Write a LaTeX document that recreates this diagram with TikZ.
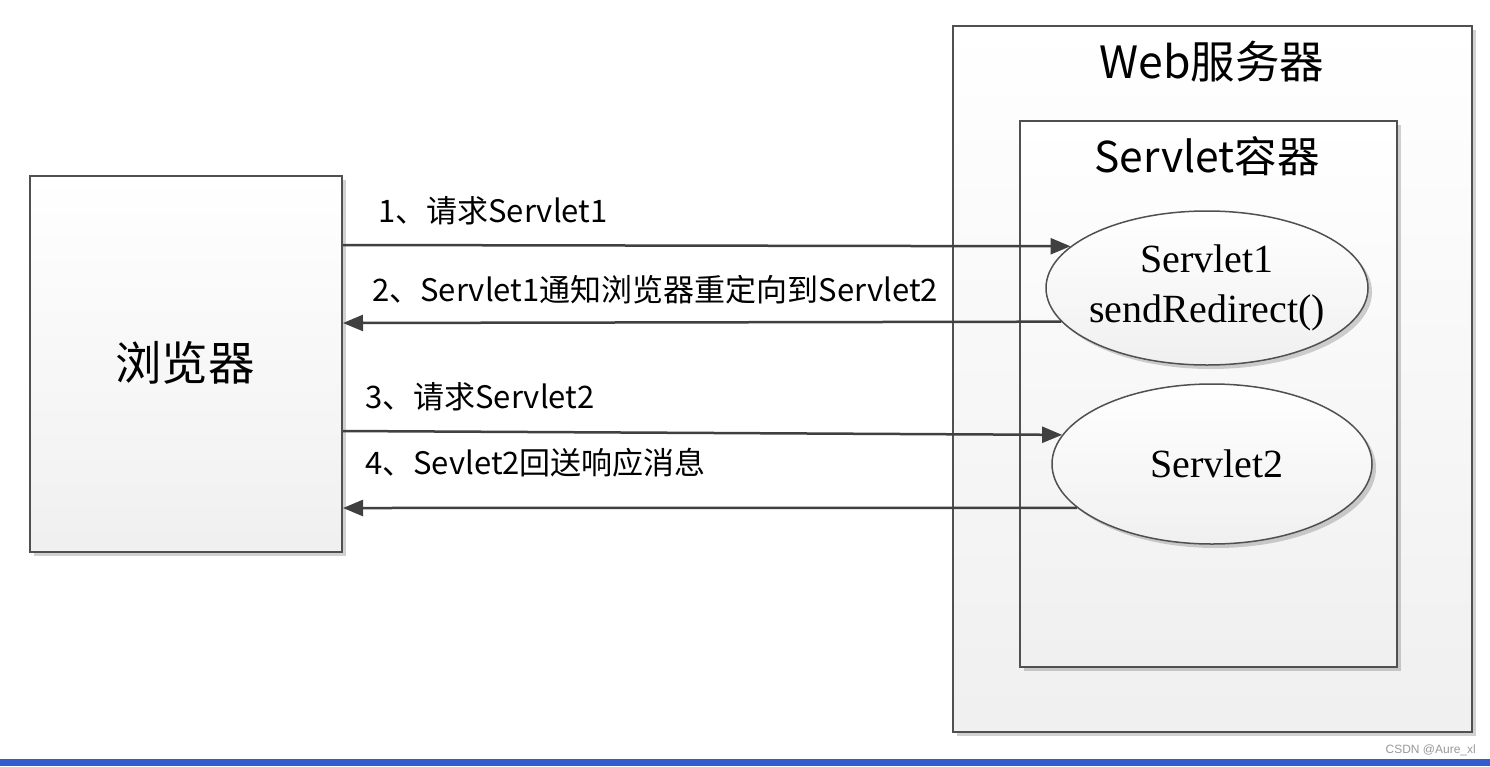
\documentclass[tikz,border=0pt]{standalone}
\usepackage{fontspec}
\setmainfont{Liberation Serif}
\newfontfamily\cjk{Noto Sans CJK SC}
\newfontfamily\wm{Liberation Sans}
\usetikzlibrary{arrows.meta,shadows,shapes.geometric}
\definecolor{edge}{RGB}{80,80,80}
\definecolor{arr}{RGB}{64,64,64}
\definecolor{barblue}{RGB}{52,92,206}
\tikzset{
  boxshade/.style={top color=white, bottom color=gray!12, draw=edge, line width=2pt,
    drop shadow={shadow xshift=4pt, shadow yshift=-4pt, opacity=0.18, fill=black}},
  panel/.style={boxshade, rectangle, inner sep=0pt},
  servlet/.style={boxshade, ellipse, line width=1.5pt, inner xsep=-30pt, inner ysep=-20pt,
    minimum width=322pt, align=center, font=\fontsize{40}{50}\selectfont},
  flow/.style={draw=arr, line width=2.5pt, -{Triangle[length=20pt,width=16pt]}},
  msg/.style={anchor=west, inner sep=0pt, font=\cjk\fontsize{31}{34}\selectfont},
  title/.style={inner sep=0pt, font=\cjk\fontsize{44.5}{50}\selectfont}
}
\begin{document}
\begin{tikzpicture}[x=1pt,y=-1pt]
\useasboundingbox (0,0) rectangle (1490,766);
\fill[white] (0,0) rectangle (1490,766);
% boxes
\node[panel, minimum width=312pt, minimum height=376pt] (browser) at (186,364) {};
\node[title, font=\cjk\fontsize{46.5}{50}\selectfont] (browserlbl) at (185,363) {浏览器};
\node[panel, minimum width=519pt, minimum height=706pt] (web) at (1212.5,379) {};
\node[title] (webtitle) at (1212,62) {Web服务器};
\node[panel, minimum width=377pt, minimum height=546pt] (cont) at (1208.5,394) {};
\node[title, font=\cjk\fontsize{42.5}{48}\selectfont] (conttitle) at (1207,156) {Servlet容器};
% servlets
\node[servlet, minimum height=154pt] (s1) at (1207,288) {Servlet1\\sendRedirect()};
\node[servlet, minimum width=320pt, minimum height=160pt] (s2) at (1212,464) {\hspace*{10pt}Servlet2};
% arrows
\draw[flow] ([yshift=119pt]browser.east) -- (s1.163.6);
\draw[flow] (s1.193.8) -- ([yshift=41pt]browser.east);
\draw[flow] ([yshift=-67pt]browser.east) -- (s2.169.9);
\draw[flow] (s2.198.2) -- ([yshift=-144pt]browser.east);
% labels
\node[msg] (m1) at (378,211) {1、请求Servlet1};
\node[msg] (m2) at (372,290) {2、Servlet1通知浏览器重定向到Servlet2};
\node[msg] (m3) at (365,397) {3、请求Servlet2};
\node[msg] (m4) at (365,463) {4、Sevlet2回送响应消息};
% footer
\fill[barblue] (0,759) rectangle (1490,766);
\node[anchor=east, inner sep=0pt, text=gray!80, font=\wm\fontsize{12}{14}\selectfont] (wmark) at (1476,750) {CSDN @Aure\_xl};
\end{tikzpicture}
\end{document}
